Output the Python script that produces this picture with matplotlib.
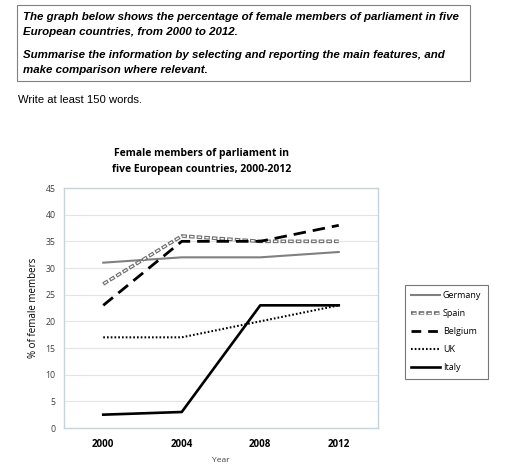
import numpy as np
import matplotlib.pyplot as plt
from matplotlib.lines import Line2D
from matplotlib.patches import Rectangle

years = ['2000', '2004', '2008', '2012']
germany = [31, 32, 32, 33]
spain = [27, 36, 35, 35]
belgium = [23, 35, 35, 38]
uk = [17, 17, 20, 23]
italy = [2.5, 3, 23, 23]
series_names = ['Germany', 'Spain', 'Belgium', 'UK', 'Italy']

plt.rcParams['lines.scale_dashes'] = False

# line styles (dash lengths in points)
st_germany = dict(color='#808080', lw=1.5)
st_spain = dict(color='#6e6e6e', lw=2.6, ls=(0, (4.0, 1.5)))
st_spain_in = dict(color='white', lw=1.0, ls=(4.7, (2.4, 3.1)))
st_belgium = dict(color='black', lw=2.0, ls=(0, (9, 5)))
st_uk = dict(color='black', lw=1.5, ls=(0, (1.2, 1.5)))
st_italy = dict(color='black', lw=1.9)

fig = plt.figure(figsize=(5.12, 4.69), dpi=100)

# task text box
fig.patches.append(Rectangle((17 / 512, 1 - 81 / 469), 453 / 512, 76 / 469,
                             transform=fig.transFigure, fill=False,
                             edgecolor='#808080', lw=0.8))
task = dict(family='Liberation Sans', fontsize=8.25, fontweight='bold',
            fontstyle='italic', va='center', ha='left')
fig.text(23 / 512, 1 - 17 / 469,
         'The graph below shows the percentage of female members of parliament in five', **task)
fig.text(23 / 512, 1 - 32 / 469, 'European countries, from 2000 to 2012.', **task)
fig.text(23 / 512, 1 - 55 / 469,
         'Summarise the information by selecting and reporting the main features, and', **task)
fig.text(23 / 512, 1 - 70 / 469, 'make comparison where relevant.', **task)
fig.text(18 / 512, 1 - 100 / 469, 'Write at least 150 words.',
         family='Liberation Sans', fontsize=8.1, va='center', ha='left')

ax = fig.add_axes([64 / 512, 1 - 428 / 469, 314 / 512, 240 / 469])
x = np.arange(len(years)) + 0.5

ax.plot(x, germany, **st_germany)
ax.plot(x, spain, **st_spain)
ax.plot(x, spain, **st_spain_in)
ax.plot(x, belgium, **st_belgium)
ax.plot(x, uk, **st_uk)
ax.plot(x, italy, **st_italy)

ax.set_xlim(0, 4)
ax.set_ylim(0, 45)
ax.set_yticks(np.arange(0, 46, 5))
ax.set_xticks(x)
ax.set_xticklabels(years, fontweight='bold', fontsize=7, family='Open Sans')
ax.tick_params(axis='y', labelsize=6.3, labelcolor='#404040', length=0, pad=6)
ax.tick_params(axis='x', length=0, pad=8)
for lab in ax.get_yticklabels():
    lab.set_family('Open Sans')
ax.grid(axis='y', color='#e4e4e4', lw=0.8)
ax.set_axisbelow(True)
for s in ax.spines.values():
    s.set_color('#c5d5e0')
    s.set_linewidth(1.0)

ax.set_xlabel('Year', fontsize=6, family='Open Sans', color='#404040', labelpad=5)
ax.set_ylabel('% of female members', fontsize=7, family='Open Sans', labelpad=5)
fig.text(202 / 512, 1 - 161.5 / 469,
         'Female members of parliament in\nfive European countries, 2000-2012',
         ha='center', va='center', fontsize=7.5, fontweight='bold',
         family='Open Sans', linespacing=1.55)

# legend
handles = [
    Line2D([], [], **st_germany),
    (Line2D([], [], **st_spain), Line2D([], [], **st_spain_in)),
    Line2D([], [], color='black', lw=2.0, ls=(0, (7, 5))),
    Line2D([], [], **st_uk),
    Line2D([], [], **st_italy),
]
leg = fig.legend(handles, series_names, loc='upper left',
                 bbox_to_anchor=(405 / 512, 1 - 285 / 469), borderaxespad=0,
                 frameon=True, fancybox=False, edgecolor='#555555',
                 prop={'family': 'Open Sans', 'size': 6.5},
                 handlelength=3.2, handletextpad=0.3, labelspacing=1.0,
                 borderpad=0.7)
leg.get_frame().set_linewidth(0.8)

fig.savefig('out.png', dpi=100)
